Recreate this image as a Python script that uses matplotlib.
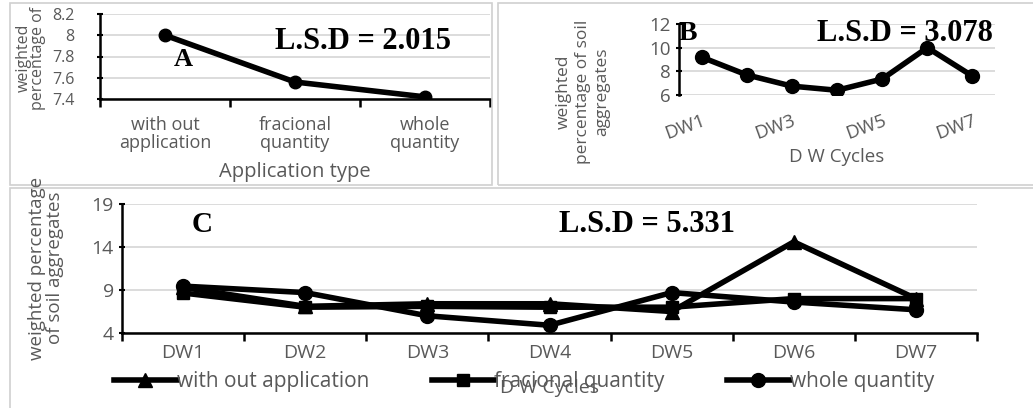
import matplotlib.pyplot as plt
from matplotlib.patches import Rectangle
import numpy as np

# panel A
app_types = ["with out\napplication", "fracional\nquantity", "whole\nquantity"]
a_values = [8.0, 7.56, 7.42]
a_yticks = [7.4, 7.6, 7.8, 8.0, 8.2]
a_ytick_labels = ["7.4", "7.6", "7.8", "8", "8.2"]

# panel B
cycles = ["DW1", "DW2", "DW3", "DW4", "DW5", "DW6", "DW7"]
b_values = [9.2, 7.7, 6.75, 6.4, 7.35, 10.0, 7.6]
b_yticks = [6, 8, 10, 12]

# panel C
c_without = [9.3, 7.1, 7.4, 7.4, 6.5, 14.6, 8.0]
c_fracional = [8.65, 7.0, 7.1, 7.0, 7.0, 8.0, 8.0]
c_whole = [9.45, 8.7, 6.0, 4.9, 8.7, 7.6, 6.7]
c_yticks = [4, 9, 14, 19]

GRAY_TXT = "#595959"
GRID = "#d9d9d9"
LSD_FONT = dict(family="Liberation Serif", weight="bold", color="black")

plt.rcParams["font.family"] = ["Open Sans", "DejaVu Sans"]

fig = plt.figure(figsize=(10.33, 4.08), dpi=100)
W, H = 1033, 408


def box(x0, y0, x1, y1):
    fig.patches.append(Rectangle((x0 / W, 1 - y1 / H), (x1 - x0) / W, (y1 - y0) / H,
                                 transform=fig.transFigure, fill=False,
                                 edgecolor="#d0d0d0", lw=1.2))


def axes_px(x0, y0, x1, y1):
    return fig.add_axes([x0 / W, 1 - y1 / H, (x1 - x0) / W, (y1 - y0) / H])


def style(ax, yticks, ylim, n, boundary_ticks=True):
    ax.set_xlim(-0.5, n - 0.5)
    ax.set_ylim(*ylim)
    ax.set_yticks(yticks)
    ax.yaxis.grid(True, color=GRID, lw=1.3)
    ax.set_axisbelow(True)
    for s in ["top", "right"]:
        ax.spines[s].set_visible(False)
    ax.spines["left"].set_linewidth(1.8)
    ax.spines["bottom"].set_linewidth(1.8)
    ax.tick_params(axis="y", length=5, width=1.5, colors="black",
                   labelcolor=GRAY_TXT, direction="inout")
    ax.set_xticks(range(n))
    ax.tick_params(axis="x", which="major", length=0, labelcolor=GRAY_TXT)
    if boundary_ticks:
        ax.set_xticks(np.arange(-0.5, n), minor=True)
        ax.tick_params(axis="x", which="minor", length=6, width=1.8, direction="out")


# ---------- A ----------
box(10, 3, 492, 185)
axA = axes_px(100, 14, 490, 99)
axA.plot(range(3), a_values, color="black", lw=4, marker="o", ms=9)
style(axA, a_yticks, (7.4, 8.2), 3)
axA.set_yticklabels(a_ytick_labels, fontsize=11.5)
axA.tick_params(axis="y", pad=16)
axA.set_xticklabels(app_types, fontsize=13, linespacing=1.05)
axA.tick_params(axis="x", pad=12)
axA.set_xlabel("Application type", fontsize=14.5, color=GRAY_TXT, labelpad=7)
fig.text(31 / W, 1 - 58 / H, "weighted\npercentage of", rotation=90, fontsize=11.5,
         color=GRAY_TXT, ha="center", va="center", linespacing=0.9)
axA.text(0.14, 7.77, "A", fontsize=19, **LSD_FONT, ha="center", va="center")
axA.text(1.52, 7.94, "L.S.D = 2.015", fontsize=22, **LSD_FONT, ha="center", va="center")

# ---------- B ----------
box(498, 3, 1040, 185)
axB = axes_px(679, 24, 995, 95)
axB.plot(range(7), b_values, color="black", lw=4, marker="o", ms=10)
style(axB, b_yticks, (6, 12), 7, boundary_ticks=False)
axB.spines["bottom"].set_visible(False)
axB.set_yticklabels([str(v) for v in b_yticks], fontsize=13.5)
axB.set_xticks(range(0, 7, 2))
axB.set_xticklabels(cycles[::2], fontsize=13.5, rotation=20, ha="right",
                    rotation_mode="anchor")
axB.tick_params(axis="x", pad=12)
axB.set_xlabel("D W Cycles", fontsize=13.5, color=GRAY_TXT, labelpad=4)
fig.text(583 / W, 1 - 92 / H, "weighted\npercentage of soil\naggregates", rotation=90,
         fontsize=12.5, color=GRAY_TXT, ha="center", va="center", linespacing=1.3)
axB.text(-0.5, 11.2, "B", fontsize=20, **LSD_FONT, ha="left", va="center")
axB.text(6.45, 11.2, "L.S.D = 3.078", fontsize=22, **LSD_FONT, ha="right", va="center")

# ---------- C ----------
box(10, 188, 1040, 420)
axC = axes_px(122, 204, 977, 333)
axC.plot(range(7), c_without, color="black", lw=4, marker="^", ms=10,
         label="with out application")
axC.plot(range(7), c_fracional, color="black", lw=4, marker="s", ms=9,
         label="fracional quantity")
axC.plot(range(7), c_whole, color="black", lw=4, marker="o", ms=10,
         label="whole quantity")
style(axC, c_yticks, (4, 19), 7)
axC.set_yticklabels([str(v) for v in c_yticks], fontsize=14)
axC.set_xticklabels(cycles, fontsize=14)
axC.tick_params(axis="x", pad=8)
axC.set_xlabel("D W Cycles", fontsize=14, color=GRAY_TXT, labelpad=12)
fig.text(46 / W, 1 - 268 / H, "weighted percentage\nof soil aggregates", rotation=90,
         fontsize=13.5, color=GRAY_TXT, ha="center", va="center", linespacing=0.95)
axC.text(0.16, 16.6, "C", fontsize=21, **LSD_FONT, ha="center", va="center")
axC.text(3.8, 16.6, "L.S.D = 5.331", fontsize=22, **LSD_FONT, ha="center", va="center")
leg = fig.legend(loc="center", bbox_to_anchor=(524 / W, 1 - 382 / H), ncol=3,
                 frameon=False, fontsize=15, handlelength=3.0, handletextpad=0.0,
                 columnspacing=3.0, labelcolor=GRAY_TXT)

fig.savefig("out.png", dpi=100)
